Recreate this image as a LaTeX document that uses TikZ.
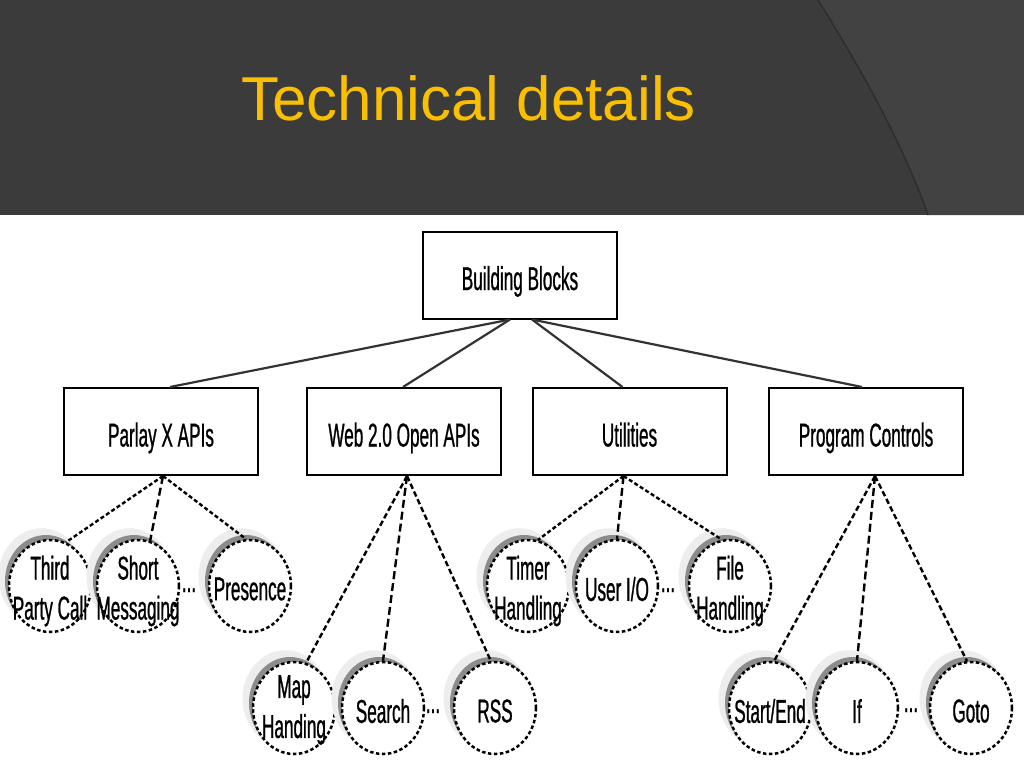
\documentclass[tikz,border=0pt]{standalone}
\usepackage{fontspec}
\setmainfont{Liberation Sans}
\newfontfamily\nar[FakeStretch=0.52,FakeBold=0.8]{Liberation Sans}
\usetikzlibrary{calc,shapes.geometric,shadows}
\definecolor{hdr}{RGB}{59,59,59}
\definecolor{hdrtwo}{RGB}{66,66,66}
\definecolor{hdredge}{RGB}{46,46,46}
\definecolor{gold}{RGB}{250,192,0}
\tikzset{
  blk/.style={draw, line width=2pt, minimum width=194pt, minimum height=87pt,
    text height=34pt, text depth=4pt,
    font=\nar\fontsize{33}{36}\selectfont, inner sep=0pt},
  bubble/.style={ellipse, draw, line width=2.5pt, dash pattern=on 3.5pt off 2.5pt,
    fill=white, minimum width=82pt, minimum height=92pt, inner sep=0pt,
    general shadow={fill=gray!14, shadow xshift=-8pt, shadow yshift=9pt, shadow scale=1.05},
    general shadow={fill=black!45, shadow xshift=-4pt, shadow yshift=5pt}},
  ltext/.style={font=\nar\fontsize{33}{40}\selectfont, align=center, inner sep=0pt},
  dots/.style={font=\nar\fontsize{33}{36}\selectfont, inner sep=0pt, anchor=base},
  tree/.style={line width=2.2pt, black!80},
  dA/.style={line width=2.4pt, dash pattern=on 4pt off 2.5pt},
  dB/.style={line width=2.4pt, dash pattern=on 8pt off 4pt},
  dC/.style={line width=2.4pt, dash pattern=on 5.5pt off 3pt}
}
\begin{document}
\begin{tikzpicture}[x=1pt,y=-1pt]
\useasboundingbox (0,0) rectangle (1024,768);
\fill[white] (0,0) rectangle (1024,768);
% header
\fill[hdr] (0,0) rectangle (1024,215);
\fill[hdrtwo] (818,0) .. controls (868,80) and (905,150) .. (928,215) -- (1024,215) -- (1024,0) -- cycle;
\draw[hdredge, line width=1.5pt] (818,0) .. controls (868,80) and (905,150) .. (928,215);
\node[anchor=base west, inner sep=0pt, text=gold, font=\fontsize{62}{70}\selectfont] (title) at (241,120) {Technical details};

% boxes
\node[blk] (bb) at (520,275) {Building Blocks};
\node[blk] (px) at (161,431.5) {Parlay X APIs};
\node[blk] (web) at (404,431.5) {Web 2.0 Open APIs};
\node[blk] (util) at (629.5,431.5) {Utilities};
\node[blk] (prog) at (866,431.5) {Program Controls};

\draw[tree] ($(bb.south)+(-10,0)$) -- ($(px.north)+(9,0)$);
\draw[tree] ($(bb.south)+(-10,0)$) -- ($(web.north)+(-1,0)$);
\draw[tree] ($(bb.south)+(12,0)$) -- ($(util.north)+(-7,0)$);
\draw[tree] ($(bb.south)+(12,0)$) -- ($(prog.north)+(-4,0)$);

% bubbles row 1
\node[bubble, label={[ltext, yshift=-5pt]center:{Third\\Party Call}}] (tpc) at (50,586) {};
\node[bubble, label={[ltext, yshift=-5pt]center:{Short\\Messaging}}] (sms) at (138,586) {};
\node[bubble, label={[ltext, yshift=-3pt]center:{Presence}}] (pres) at (250,586) {};
\node[dots] (d1) at (189,592) {...};

\node[bubble, label={[ltext, yshift=-5pt]center:{Timer\\Handling}}] (timer) at (528,586) {};
\node[bubble, label={[ltext, yshift=-3pt]center:{User I/O}}] (uio) at (617,586) {};
\node[bubble, label={[ltext, yshift=-5pt]center:{File\\Handling}}] (file) at (730,586) {};
\node[dots] (d2) at (668,592) {...};

% bubbles row 2
\node[bubble, label={[ltext, yshift=-2pt]center:{Map\\Handing}}] (map) at (294,708) {};
\node[bubble, label={[ltext, yshift=-3pt]center:{Search}}] (search) at (383,708) {};
\node[bubble, label={[ltext, yshift=-3pt]center:{RSS}}] (rss) at (495,708) {};
\node[dots] (d3) at (433,713) {...};

\node[bubble, label={[ltext, yshift=-3pt]center:{Start/End}}] (se) at (770,708) {};
\node[bubble, label={[ltext, yshift=-3pt]center:{If}}] (if) at (857,708) {};
\node[bubble, label={[ltext, yshift=-3pt]center:{Goto}}] (goto) at (971,708) {};
\node[dots] (d4) at (911,712) {...};

% dashed connectors
\draw[dA] ($(px.south)+(2,0)$) -- (tpc.70);
\draw[dB] ($(px.south)+(2,0)$) -- (sms.75);
\draw[dA] ($(px.south)+(2,0)$) -- (pres.95);

\draw[dC] ($(web.south)+(3,0)$) -- (map.75);
\draw[dB] ($(web.south)+(3,0)$) -- (search.90);
\draw[dC] ($(web.south)+(3,0)$) -- (rss.95);

\draw[dA] ($(util.south)+(-6,0)$) -- (timer.78);
\draw[dB] ($(util.south)+(-6,0)$) -- (uio.90);
\draw[dA] ($(util.south)+(-6,0)$) -- (file.100);

\draw[dC] ($(prog.south)+(9,0)$) -- (se.85);
\draw[dB] ($(prog.south)+(9,0)$) -- (if.90);
\draw[dC] ($(prog.south)+(9,0)$) -- (goto.95);
\end{tikzpicture}
\end{document}
